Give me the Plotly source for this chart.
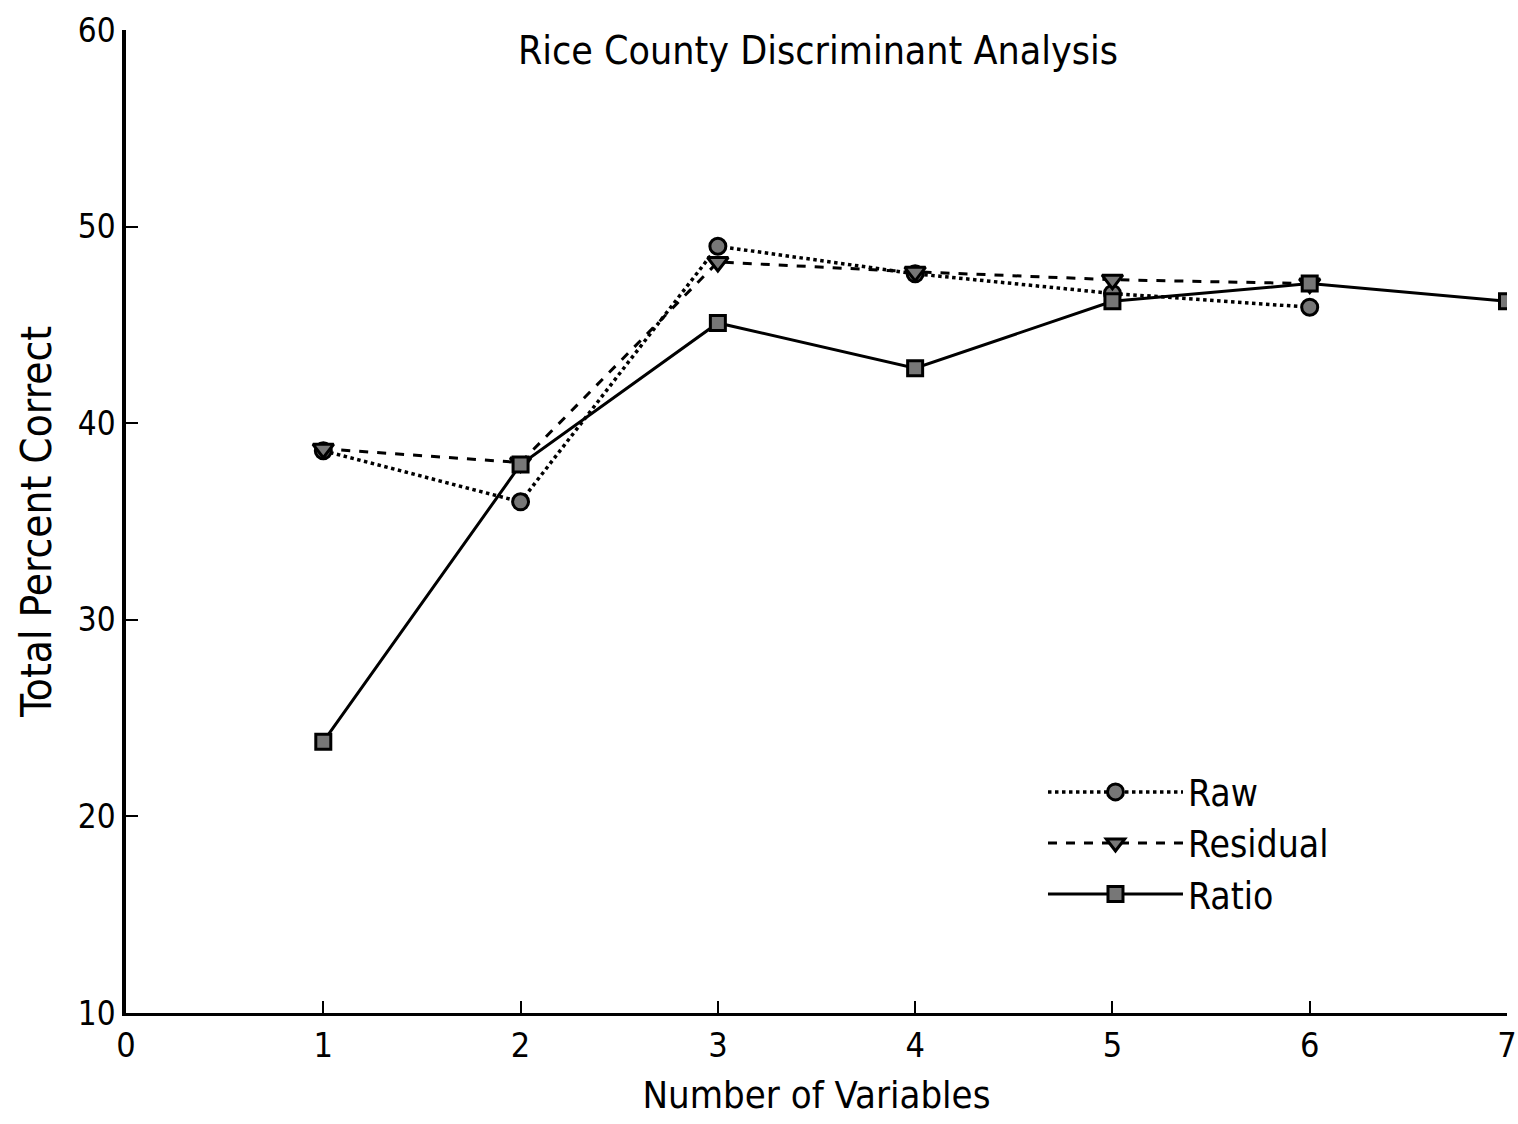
import plotly.graph_objects as go

x_raw = [1, 2, 3, 4, 5, 6]
raw = [38.6, 36.0, 49.0, 47.6, 46.6, 45.9]
x_res = [1, 2, 3, 4, 5, 6]
residual = [38.7, 38.0, 48.2, 47.7, 47.3, 47.1]
x_ratio = [1, 2, 3, 4, 5, 6, 7]
ratio = [23.8, 37.9, 45.1, 42.8, 46.2, 47.1, 46.2]

x_ticks = [0, 1, 2, 3, 4, 5, 6, 7]
y_ticks = [10, 20, 30, 40, 50, 60]

FONT = "DejaVu Sans Condensed, Liberation Sans Narrow, sans-serif"

fig = go.Figure()
fig.add_trace(go.Scatter(
    x=x_raw, y=raw, name="Raw", mode="lines+markers",
    line=dict(color="black", width=3.5, dash="dot"),
    marker=dict(symbol="circle", size=16, color="#777", line=dict(color="black", width=3)),
))
fig.add_trace(go.Scatter(
    x=x_res, y=residual, name="Residual", mode="lines+markers",
    line=dict(color="black", width=3, dash="dash"),
    marker=dict(symbol="triangle-down", size=18, color="#777", line=dict(color="black", width=3)),
))
fig.add_trace(go.Scatter(
    x=x_ratio, y=ratio, name="Ratio", mode="lines+markers",
    line=dict(color="black", width=3),
    marker=dict(symbol="square", size=15, color="#777", line=dict(color="black", width=3)),
))

fig.update_layout(
    width=1518, height=1124,
    paper_bgcolor="white", plot_bgcolor="white",
    margin=dict(l=126, r=11, t=30, b=111, autoexpand=False),
    font=dict(family=FONT, color="black", size=30),
    title=dict(text="Rice County Discriminant Analysis", x=818 / 1518, xanchor="center",
               y=1 - 50 / 1124, yanchor="middle", yref="container",
               font=dict(size=39, family=FONT)),
    showlegend=True,
    legend=dict(x=0.664, y=0.256, xanchor="left", yanchor="top",
                bgcolor="rgba(0,0,0,0)", font=dict(size=37, family=FONT),
                itemwidth=135, tracegroupgap=0),
    xaxis=dict(range=[0, 7], tickvals=x_ticks, ticks="inside", ticklen=12, tickwidth=2,
               tickcolor="black", showline=True, linecolor="black", linewidth=3,
               showgrid=False, zeroline=False, tickfont=dict(size=34), automargin=False,
               title=dict(text="Number of Variables", font=dict(size=38), standoff=18)),
    yaxis=dict(range=[10, 60], tickvals=y_ticks, ticks="inside", ticklen=12, tickwidth=2,
               tickcolor="black", showline=True, linecolor="black", linewidth=3.5,
               showgrid=False, zeroline=False, tickfont=dict(size=33), automargin=False,
               title=dict(text="Total Percent Correct", font=dict(size=42), standoff=14)),
)

fig.write_html("out.html", config={"displayModeBar": False},
               post_script="document.body.style.margin='0';document.body.style.overflow='hidden';")
